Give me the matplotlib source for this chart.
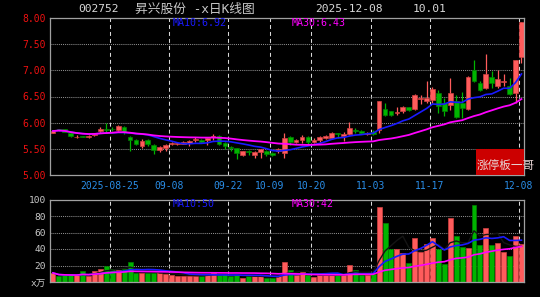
import numpy as np
import pandas as pd
import matplotlib
matplotlib.use('Agg')
import matplotlib.pyplot as plt
from matplotlib.patches import Rectangle

plt.rcParams['font.family'] = ['DejaVu Sans Mono', 'Noto Sans CJK SC']

# ---------------- data ----------------
dates = pd.bdate_range('2025-08-11', '2025-12-08')
dates = dates[~((dates >= '2025-10-01') & (dates <= '2025-10-08'))]

opens = [5.81, 5.87, 5.87, 5.80, 5.72, 5.74, 5.73, 5.76, 5.84, 5.87,
         5.88, 5.86, 5.92, 5.72, 5.67, 5.56, 5.66, 5.57, 5.47, 5.52,
         5.59, 5.60, 5.60, 5.62, 5.66, 5.67, 5.66, 5.72, 5.75, 5.62,
         5.54, 5.51, 5.39, 5.45, 5.39, 5.44, 5.46, 5.42, 5.45, 5.42,
         5.73, 5.63, 5.66, 5.72, 5.64, 5.66, 5.70, 5.70, 5.80, 5.75,
         5.79, 5.86, 5.84, 5.78, 5.83, 5.86, 6.27, 6.22, 6.18, 6.22,
         6.29, 6.27, 6.46, 6.41, 6.44, 6.57, 6.38, 6.33, 6.41, 6.37,
         6.27, 7.00, 6.76, 6.66, 6.87, 6.70, 6.77, 6.71, 6.56, 7.25]
highs = [5.85, 5.88, 5.88, 5.83, 5.76, 5.75, 5.76, 5.81, 5.91, 5.99,
         5.91, 5.95, 5.93, 5.74, 5.68, 5.68, 5.68, 5.60, 5.55, 5.60,
         5.63, 5.64, 5.65, 5.66, 5.73, 5.68, 5.71, 5.79, 5.76, 5.63,
         5.55, 5.52, 5.46, 5.48, 5.45, 5.50, 5.48, 5.44, 5.52, 5.80,
         5.75, 5.68, 5.76, 5.74, 5.70, 5.75, 5.77, 5.82, 5.81, 5.82,
         6.01, 5.90, 5.86, 5.82, 5.86, 6.41, 6.38, 6.23, 6.29, 6.31,
         6.30, 6.54, 6.53, 6.79, 6.69, 6.63, 6.47, 6.85, 6.53, 6.59,
         6.89, 7.19, 6.79, 7.31, 6.99, 7.01, 6.93, 6.86, 7.20, 7.93]
lows = [5.80, 5.85, 5.82, 5.72, 5.70, 5.72, 5.71, 5.75, 5.80, 5.80,
        5.84, 5.84, 5.78, 5.46, 5.58, 5.52, 5.55, 5.40, 5.44, 5.45,
        5.57, 5.58, 5.59, 5.55, 5.64, 5.62, 5.58, 5.67, 5.57, 5.49,
        5.45, 5.30, 5.36, 5.39, 5.33, 5.32, 5.37, 5.36, 5.42, 5.33,
        5.58, 5.61, 5.62, 5.58, 5.62, 5.63, 5.68, 5.68, 5.71, 5.65,
        5.77, 5.80, 5.79, 5.76, 5.77, 5.80, 6.12, 6.12, 6.14, 6.18,
        6.22, 6.25, 6.35, 6.38, 6.38, 6.19, 6.12, 6.25, 6.08, 6.09,
        6.25, 6.78, 6.60, 6.65, 6.66, 6.66, 6.70, 6.53, 6.38, 7.14]
closes = [5.84, 5.86, 5.83, 5.75, 5.73, 5.73, 5.74, 5.80, 5.88, 5.86,
          5.87, 5.93, 5.82, 5.67, 5.59, 5.65, 5.60, 5.47, 5.54, 5.58,
          5.62, 5.62, 5.64, 5.65, 5.68, 5.64, 5.70, 5.74, 5.60, 5.56,
          5.51, 5.42, 5.45, 5.43, 5.43, 5.49, 5.40, 5.38, 5.50, 5.70,
          5.63, 5.67, 5.73, 5.63, 5.67, 5.73, 5.75, 5.80, 5.78, 5.79,
          5.90, 5.85, 5.81, 5.80, 5.79, 6.41, 6.15, 6.15, 6.20, 6.29,
          6.24, 6.53, 6.48, 6.47, 6.65, 6.32, 6.23, 6.57, 6.10, 6.28,
          6.88, 6.80, 6.63, 6.93, 6.76, 6.84, 6.79, 6.55, 7.20, 7.93]
volumes = [11, 7, 8, 8, 8, 13, 7.6, 13, 16, 19,
           16, 15, 16, 24, 11, 11, 11, 11, 11, 9.6,
           8.8, 7.6, 7.6, 7.6, 7.6, 7.6, 9.6, 10.8, 8.8, 9.6,
           7.2, 8, 5.2, 7.6, 6.8, 6.8, 5.2, 5.2, 6.8, 24.8,
           14, 8, 11.7, 8, 6, 8, 8, 10.8, 8, 8,
           21.2, 14, 8, 8, 9.2, 90.8, 72, 40, 40, 34.8,
           22.8, 53.2, 36, 46, 53.2, 40, 22, 77.2, 56, 42.8,
           41.2, 93.2, 45.2, 65.2, 45.2, 46.8, 36, 32, 56, 46]

tick_dates = ['2025-08-25', '2025-09-08', '2025-09-22', '2025-10-09',
              '2025-10-20', '2025-11-03', '2025-11-17', '2025-12-08']
tick_labels = ['2025-08-25', '09-08', '09-22', '10-09', '10-20', '11-03', '11-17', '12-08']
price_ticks = [5.00, 5.50, 6.00, 6.50, 7.00, 7.50, 8.00]
vol_ticks = [0, 20, 40, 60, 80, 100]
vol_tick_labels = ['x万', '20', '40', '60', '80', '100']

title_code = '002752'
title_name = '昇兴股份 -x日K线图'
title_date = '2025-12-08'
title_pct = '10.01'
ma_labels_price = ['MA10:6.92', 'MA30:6.43']
ma_labels_vol = ['MA10:50', 'MA30:42']
badge = '涨停板一哥'

# ---------------- styles ----------------
BG = 'black'
RED = '#ff5c5c'
RED_E = '#d04040'
GREEN = '#00b400'
GREEN_E = '#008000'
BLUE = '#1a1aff'
MAG = '#ff00ff'
SPINE = '#a0a0a0'
GRID = '#8c8c8c'
VGRID = '#d8d8d8'

W, H = 540, 297
fig = plt.figure(figsize=(W / 100, H / 100), dpi=100, facecolor=BG)
ax = fig.add_axes([50 / W, 1 - 175 / H, 474 / W, 157 / H], facecolor=BG)
axv = fig.add_axes([50 / W, 1 - 282 / H, 474 / W, 82.5 / H], facecolor=BG)

n = len(closes)
x = np.arange(n)
o = np.array(opens); c = np.array(closes); hi = np.array(highs); lo = np.array(lows)
up = c >= o

date_str = [d.strftime('%Y-%m-%d') for d in dates]
tick_pos = np.array([date_str.index(d) for d in tick_dates]) - 0.45

for a in (ax, axv):
    a.set_xlim(-0.5, 79.43)
    for s in a.spines.values():
        s.set_color(SPINE)
        s.set_linewidth(0.9)
        s.set_zorder(5)
    for p in tick_pos:
        a.axvline(p, color=VGRID, lw=0.75, linestyle=(0, (3.8, 2.9)), zorder=0.5)

# ---- price panel ----
ax.set_ylim(5.0, 8.0)
for t in price_ticks[1:-1]:
    ax.axhline(t, color=GRID, lw=0.75, linestyle=(0, (1, 1)), zorder=0.5)

wick_col = np.where(up, RED, GREEN)
ax.vlines(x, lo, hi, colors=wick_col, lw=0.9, zorder=2)
body_bot = np.minimum(o, c)
body_h = np.maximum(np.abs(c - o), 0.012)
ax.bar(x, body_h, bottom=body_bot, width=0.8,
       color=np.where(up, RED, GREEN), edgecolor=np.where(up, RED_E, GREEN_E),
       linewidth=0.5, zorder=3)

cs = pd.Series(c)
ax.plot(x, cs.rolling(10, min_periods=1).mean(), color=BLUE, lw=1.2, zorder=4)
ax.plot(x, cs.rolling(30, min_periods=1).mean(), color=MAG, lw=1.3, zorder=4)

ax.set_yticks(price_ticks)
ax.set_yticklabels(['%.2f' % t for t in price_ticks])
ax.tick_params(axis='y', length=0, pad=3, labelsize=7, labelcolor='#ee1111')
ax.set_xticks(tick_pos)
ax.set_xticklabels(tick_labels)
ax.tick_params(axis='x', length=0, pad=4, labelsize=7, labelcolor='#2a8ee8')

ax.add_patch(Rectangle((0.899, 0.0), 0.101, 0.164, transform=ax.transAxes,
                       facecolor='#cc0000', edgecolor='none', zorder=6))
fig.text(477 / W, 1 - 165 / H, badge, color='#e8d4d4', fontsize=8.4,
         va='center', ha='left', zorder=7)

# ---- volume panel ----
axv.set_ylim(0, 100)
for t in vol_ticks[1:-1]:
    axv.axhline(t, color=GRID, lw=0.75, linestyle=(0, (1, 1)), zorder=0.5)
axv.bar(x, volumes, width=0.84, color=np.where(up, RED, GREEN),
        edgecolor=np.where(up, RED_E, GREEN_E), linewidth=0.5, zorder=2)
vs = pd.Series(volumes)
axv.plot(x, vs.rolling(5, min_periods=1).mean(), color='#151515', lw=1.0, zorder=3)
axv.plot(x, vs.rolling(10, min_periods=1).mean(), color=BLUE, lw=1.2, zorder=3)
axv.plot(x, vs.rolling(30, min_periods=1).mean(), color=MAG, lw=1.2, zorder=3)
axv.set_yticks(vol_ticks)
axv.set_yticklabels(vol_tick_labels)
axv.tick_params(axis='y', length=0, pad=3, labelsize=6.8, labelcolor='#c8c8c8')
axv.set_xticks(tick_pos)
axv.tick_params(axis='x', length=0, labelbottom=False)

# ---- titles ----
ty = 1 - 9 / H
fig.text(78.5 / W, ty, title_code, color='#d8d8d8', fontsize=8.1, va='center')
fig.text(135 / W, ty, title_name, color='#c8c8c8', fontsize=9.2, va='center')
fig.text(315.5 / W, ty, title_date, color='#d8d8d8', fontsize=8.1, va='center')
fig.text(412.5 / W, ty, title_pct, color='#d8d8d8', fontsize=8.1, va='center')

fig.text(172.5 / W, 1 - 23.3 / H, ma_labels_price[0], color=BLUE, fontsize=7.2, va='center')
fig.text(291.5 / W, 1 - 23.3 / H, ma_labels_price[1], color=MAG, fontsize=7.2, va='center')
fig.text(172.5 / W, 1 - 204.3 / H, ma_labels_vol[0], color=BLUE, fontsize=7.2, va='center')
fig.text(291.5 / W, 1 - 204.3 / H, ma_labels_vol[1], color=MAG, fontsize=7.2, va='center')

fig.savefig('out.png', dpi=100, facecolor=BG)
